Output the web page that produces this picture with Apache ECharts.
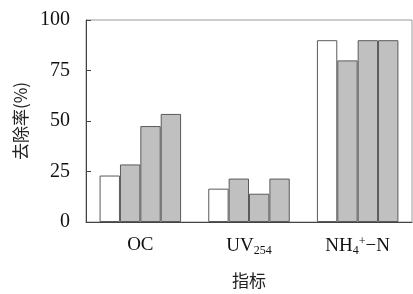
<!DOCTYPE html>
<html>
<head>
<meta charset="utf-8">
<script src="https://cdn.jsdelivr.net/npm/echarts@6/dist/echarts.min.js"></script>
<style>
  html, body { margin: 0; padding: 0; background: #fff; }
  #main { width: 413px; height: 294px; }
</style>
</head>
<body>
<div id="main"></div>
<script>
// 指标分类 + 四组去除率
let categories = ['OC', 'UV254', 'NH4+-N']
let series1 = [23, 16.5, 90]
let series2 = [28.5, 21.5, 80]
let series3 = [47.5, 14, 90]
let series4 = [53.5, 21.5, 90]
let yTicks = [0, 25, 50, 75, 100]

const serif = 'Liberation Serif'
const cjk = 'Noto Sans CJK SC'
const border = '#5a5a5a'

function barSeries(name, data, fill) {
  return {
    name: name,
    type: 'bar',
    data: data,
    barGap: '0%',
    barCategoryGap: '25%',
    itemStyle: { color: fill, borderColor: border, borderWidth: 1 }
  }
}

let chart = echarts.init(document.getElementById('main'), null, { renderer: 'canvas' })
let option = {
  animation: false,
  grid: {
    left: 86, right: 1, top: 20, bottom: 72,
    show: true, borderColor: '#999', borderWidth: 1
  },
  xAxis: {
    type: 'category',
    data: categories,
    name: '指标',
    nameLocation: 'middle',
    nameGap: 50,
    nameTextStyle: { fontFamily: cjk, fontSize: 17, color: '#222' },
    axisLine: { lineStyle: { color: '#444' } },
    axisTick: { inside: true, length: 4, lineStyle: { color: '#444' } },
    axisLabel: {
      interval: 0,
      hideOverlap: false,
      margin: 14,
      color: '#111',
      fontFamily: serif,
      fontSize: 19,
      formatter: function (v) {
        if (v === 'UV254') return '{n|UV}{sub|254}'
        if (v === 'NH4+-N') return '{n|NH}{sub|4}{sup|+}{n|−N}'
        return '{n|' + v + '}'
      },
      rich: {
        n: { fontFamily: serif, fontSize: 19, color: '#111' },
        sub: { fontFamily: serif, fontSize: 12, color: '#111', padding: [9, 0, 0, 0] },
        sup: { fontFamily: serif, fontSize: 12, color: '#111', padding: [0, 0, 9, 0] }
      }
    }
  },
  yAxis: {
    type: 'value',
    min: yTicks[0],
    max: yTicks[yTicks.length - 1],
    interval: 25,
    name: '去除率(%)',
    nameLocation: 'middle',
    nameRotate: 90,
    nameGap: 57,
    nameTextStyle: { fontFamily: cjk, fontSize: 17, color: '#222' },
    axisLine: { show: true, lineStyle: { color: '#444' } },
    axisTick: { show: true, inside: true, length: 5, lineStyle: { color: '#444' } },
    splitLine: { show: false },
    axisLabel: { margin: 16, color: '#111', fontFamily: serif, fontSize: 20 }
  },
  series: [
    barSeries('s1', series1, '#ffffff'),
    barSeries('s2', series2, '#c0c0c0'),
    barSeries('s3', series3, '#c0c0c0'),
    barSeries('s4', series4, '#c0c0c0')
  ]
}
chart.setOption(option)
</script>
</body>
</html>
